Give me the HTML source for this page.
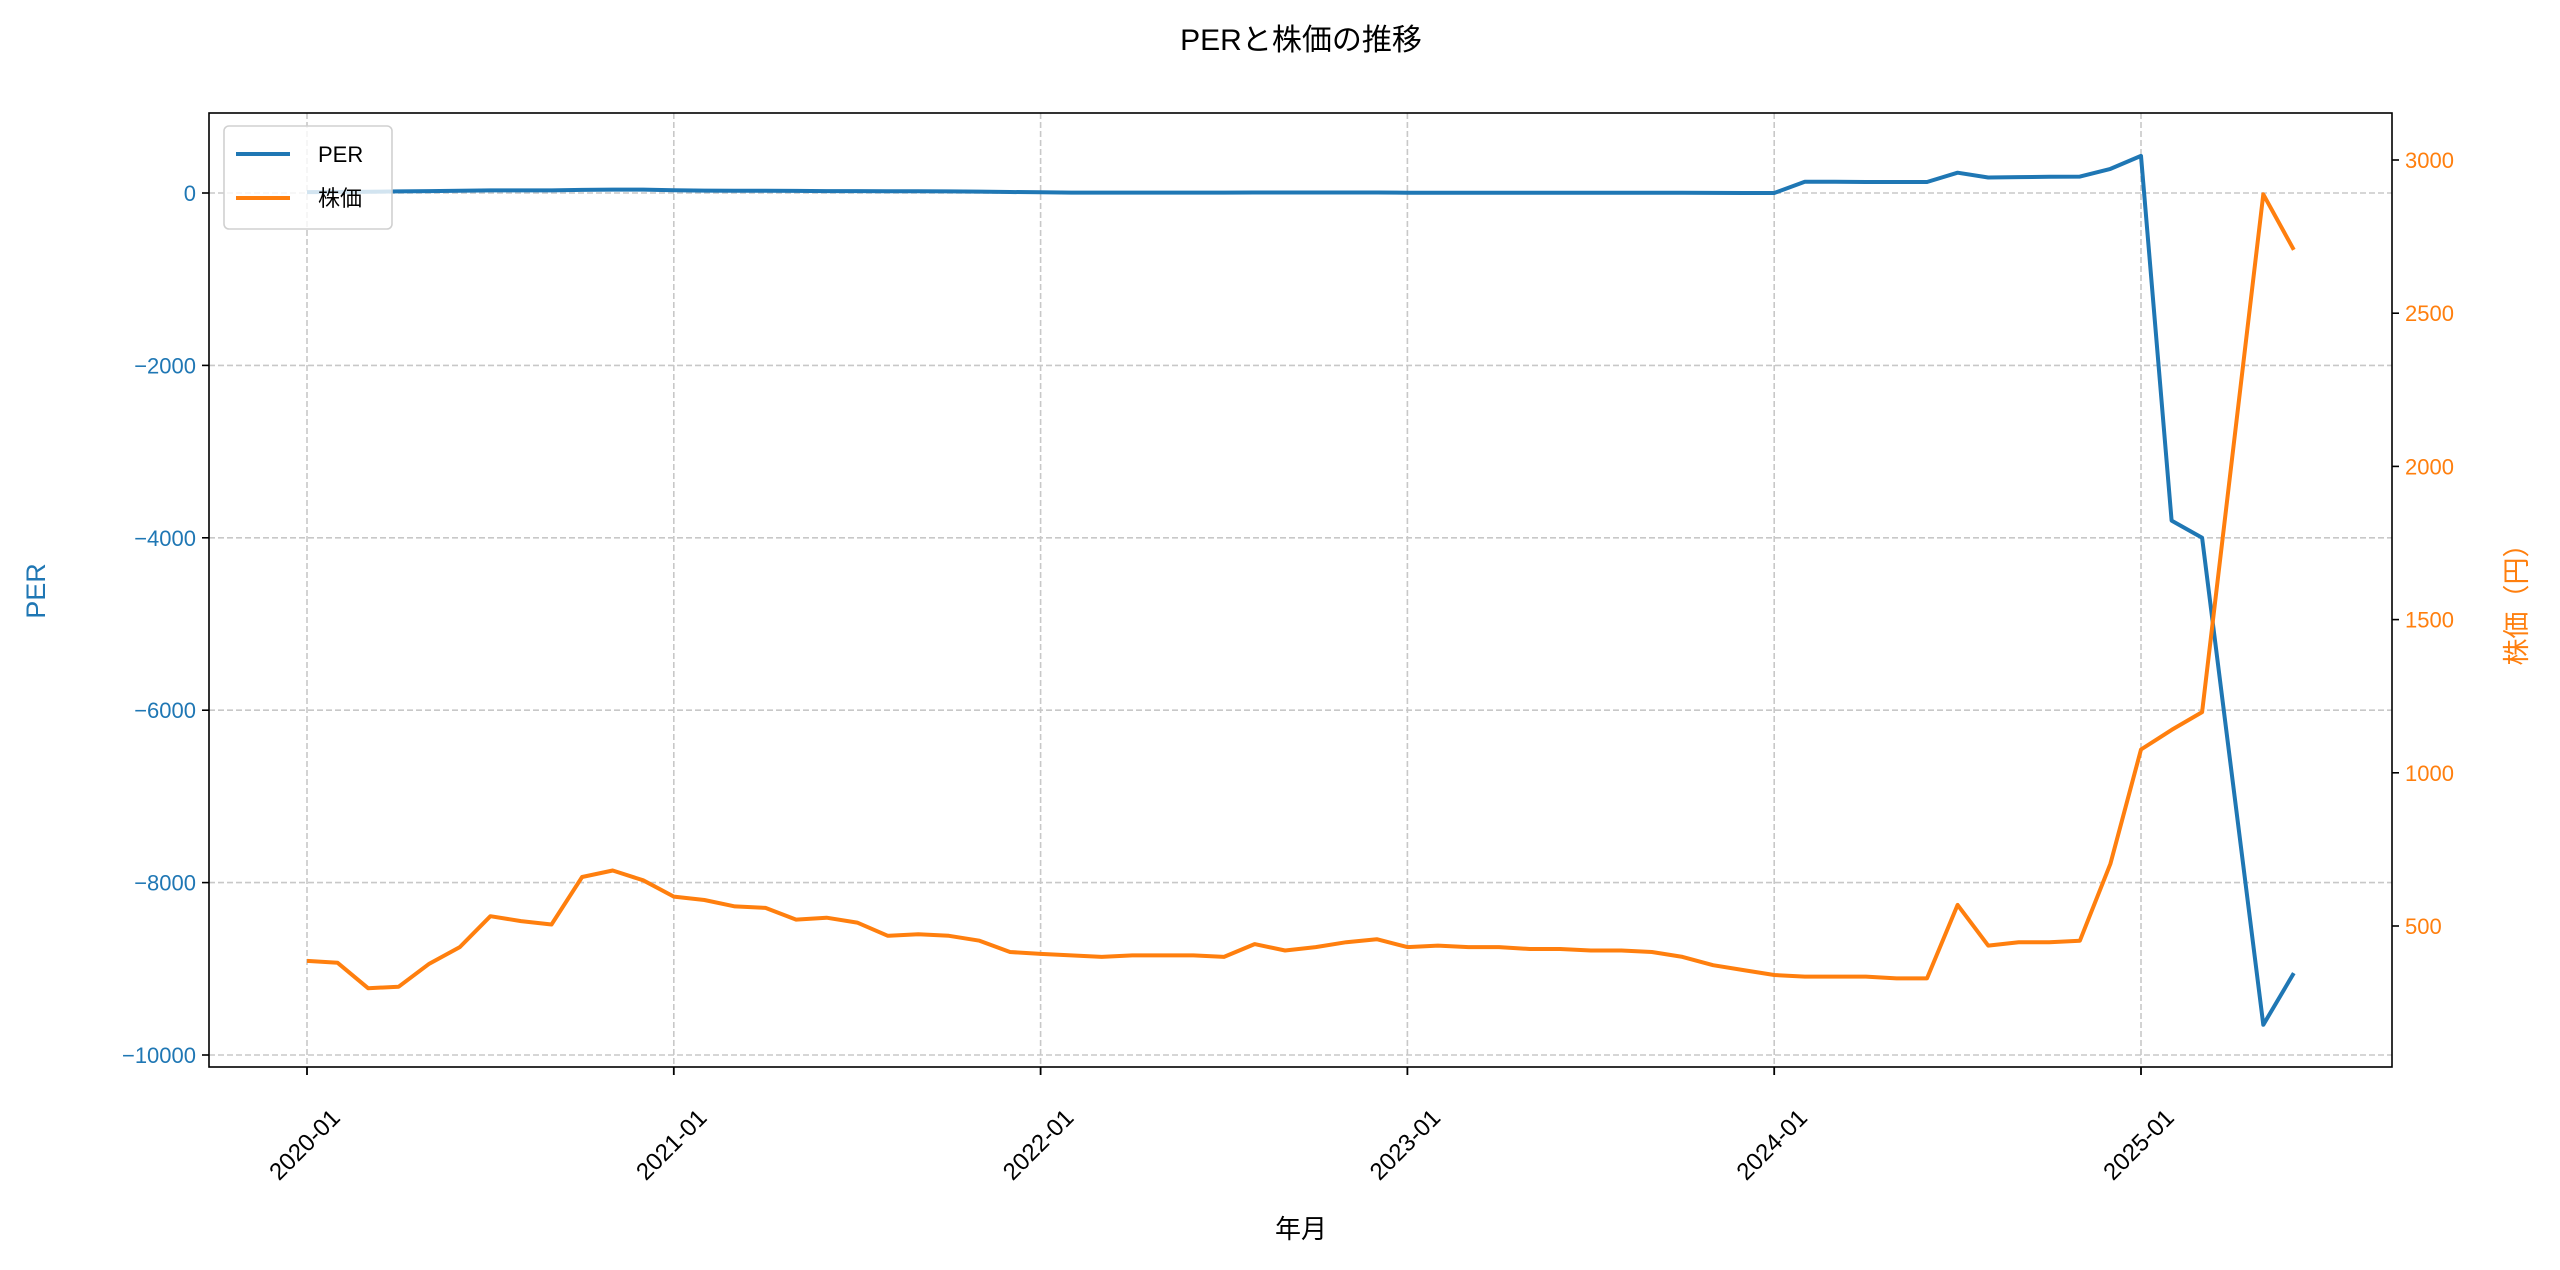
<!DOCTYPE html>
<html><head><meta charset="utf-8"><style>
body{margin:0;background:#fff}
svg{display:block;font-family:"Liberation Sans","Noto Sans CJK JP",sans-serif}
</style></head><body>
<svg id="c" width="2560" height="1270" viewBox="0 0 2560 1270"></svg>
<script>
const months=["2020-01","2020-02","2020-03","2020-04","2020-05","2020-06","2020-07","2020-08","2020-09","2020-10","2020-11","2020-12",
"2021-01","2021-02","2021-03","2021-04","2021-05","2021-06","2021-07","2021-08","2021-09","2021-10","2021-11","2021-12",
"2022-01","2022-02","2022-03","2022-04","2022-05","2022-06","2022-07","2022-08","2022-09","2022-10","2022-11","2022-12",
"2023-01","2023-02","2023-03","2023-04","2023-05","2023-06","2023-07","2023-08","2023-09","2023-10","2023-11","2023-12",
"2024-01","2024-02","2024-03","2024-04","2024-05","2024-06","2024-07","2024-08","2024-09","2024-10","2024-11","2024-12",
"2025-01","2025-02","2025-03","2025-05","2025-06"];
const perValues=[10,12,14,18,22,26,30,30,30,36,40,40,
32,28,26,26,24,22,22,20,20,18,16,12,
8,5,5,5,5,5,5,6,6,6,6,6,
4,3,3,3,3,3,3,3,2,2,1,0,
0,130,130,128,128,128,235,180,185,188,190,280,
430,-3800,-4000,-9650,-9050];
const priceValues=[386,380,297,302,377,431,532,516,505,660,681,649,
596,585,564,559,521,527,511,468,473,468,452,415,
409,404,399,404,404,404,399,441,420,431,447,457,
431,436,431,431,425,425,420,420,415,399,372,356,
340,335,335,335,329,329,569,436,447,447,452,703,
1076,1140,1198,2888,2707];
const xTicks=["2020-01","2021-01","2022-01","2023-01","2024-01","2025-01"];
const leftTicks=[0,-2000,-4000,-6000,-8000,-10000];
const rightTicks=[500,1000,1500,2000,2500,3000];

const L=209,R=2392,T=113,B=1067;
const NS="http://www.w3.org/2000/svg";
const svg=document.getElementById('c');
function mi(s){const [y,m]=s.split('-').map(Number);return (y-2020)*12+(m-1);}
function X(s){return 307+mi(s)*366.8/12;}
function YL(v){return 193-v*0.0862;}
function YR(v){return 926-(v-500)*0.3064;}
function el(tag,attrs,parent){const e=document.createElementNS(NS,tag);for(const k in attrs)e.setAttribute(k,attrs[k]);(parent||svg).appendChild(e);return e;}
function fmt(v){return v<0?'\u2212'+Math.abs(v):String(v);}

for(const t of xTicks){const g=el('line',{x1:X(t),x2:X(t),y1:T,y2:B,stroke:'#c8c8c8','stroke-width':1.6,'stroke-dasharray':'6,3'});

}
for(const t of leftTicks){const g=el('line',{x1:L,x2:R,y1:YL(t),y2:YL(t),stroke:'#c8c8c8','stroke-width':1.6,'stroke-dasharray':'6,3'});

}

const perPts=months.map((m,i)=>X(m).toFixed(1)+','+YL(perValues[i]).toFixed(1)).join(' ');
const perLine=el('polyline',{points:perPts,fill:'none',stroke:'#1f77b4','stroke-width':4,'stroke-linejoin':'round'});


const prPts=months.map((m,i)=>X(m).toFixed(1)+','+YR(priceValues[i]).toFixed(1)).join(' ');
const prLine=el('polyline',{points:prPts,fill:'none',stroke:'#ff7f0e','stroke-width':4,'stroke-linejoin':'round'});



const fr=el('rect',{x:L,y:T,width:R-L,height:B-T,fill:'none',stroke:'#000','stroke-width':1.6});



for(const t of xTicks){const x=X(t);
el('line',{x1:x,x2:x,y1:B,y2:B+8,stroke:'#000','stroke-width':1.8});
const tx=el('text',{x:0,y:0,'font-size':24,'text-anchor':'middle','dominant-baseline':'central',fill:'#000',transform:`translate(${x-2},${B+78}) rotate(-45)`});
tx.textContent=t;

}
for(const t of leftTicks){const y=YL(t);
el('line',{x1:L-7,x2:L,y1:y,y2:y,stroke:'#000','stroke-width':1.6});
const tx=el('text',{x:L-13,y:y+8,'font-size':22,'text-anchor':'end',fill:'#1f77b4'});
tx.textContent=fmt(t);

}
for(const t of rightTicks){const y=YR(t);
el('line',{x1:R,x2:R+7,y1:y,y2:y,stroke:'#000','stroke-width':1.6});
const tx=el('text',{x:R+13,y:y+8,'font-size':22,'text-anchor':'start',fill:'#ff7f0e'});
tx.textContent=String(t);

}

const ti=el('text',{x:1301,y:50,'font-size':30,'text-anchor':'middle',fill:'#000'});ti.textContent='PERと株価の推移';


const xl=el('text',{x:1301,y:1238,'font-size':26,'text-anchor':'middle',fill:'#000'});xl.textContent='年月';


const yl=el('text',{x:0,y:0,'font-size':27,'text-anchor':'middle',fill:'#1f77b4',transform:'translate(45,591) rotate(-90)'});yl.textContent='PER';


const yr=el('text',{x:0,y:0,'font-size':27,'text-anchor':'middle',fill:'#ff7f0e',transform:'translate(2526,598) rotate(-90)'});yr.textContent='株価（円）';



const lg=el('g',{});


el('rect',{x:224,y:126,width:168,height:103,rx:5,fill:'#fff','fill-opacity':0.8,stroke:'#d0d0d0','stroke-width':1.6},lg);
el('line',{x1:236,x2:290,y1:154,y2:154,stroke:'#1f77b4','stroke-width':4},lg);
const t1=el('text',{x:318,y:162,'font-size':22,fill:'#000'},lg);t1.textContent='PER';


el('line',{x1:236,x2:290,y1:198,y2:198,stroke:'#ff7f0e','stroke-width':4},lg);
const t2=el('text',{x:318,y:206,'font-size':22,fill:'#000'},lg);t2.textContent='株価';


</script>
</body></html>
